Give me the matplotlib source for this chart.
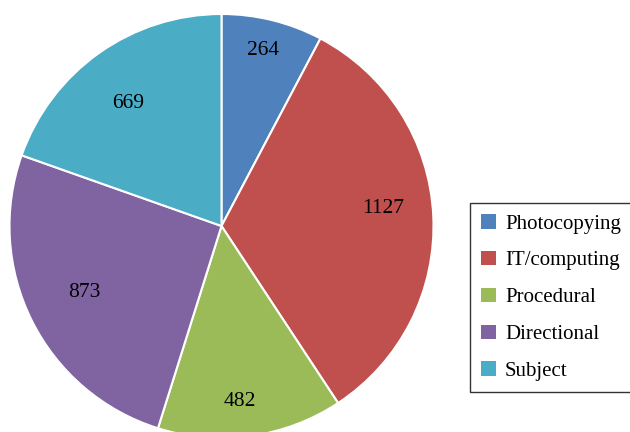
import numpy as np
import matplotlib.pyplot as plt
from matplotlib.patches import Patch

categories = ['Photocopying', 'IT/computing', 'Procedural', 'Directional', 'Subject']
counts = [264, 1127, 482, 873, 669]
colors = ['#4F81BD', '#C0504D', '#9BBB59', '#8064A2', '#4BACC6']
# where each number sits: fraction of radius and a small angle nudge (deg)
label_dist = [0.85, 0.765, 0.83, 0.72, 0.725]
label_nudge = [0.6, 3.6, -2.0, -0.6, 2.2]

plt.rcParams['font.family'] = ['Liberation Serif', 'DejaVu Serif']

fig = plt.figure(figsize=(6.3, 4.32), dpi=100)
W, H = 630, 432
r_px = 212
cx, cy = 221.5, 432 - 226
ax = fig.add_axes([(cx - r_px) / W, (cy - r_px) / H, 2 * r_px / W, 2 * r_px / H])

wedges, _ = ax.pie(counts, colors=colors, startangle=90, counterclock=False,
                   radius=1, wedgeprops=dict(edgecolor='white', linewidth=1.5))
ax.set_xlim(-1, 1)
ax.set_ylim(-1, 1)
ax.set_aspect('equal')
ax.axis('off')

for w, val, d, n in zip(wedges, counts, label_dist, label_nudge):
    mid = np.deg2rad((w.theta1 + w.theta2) / 2 + n)
    ax.text(d * np.cos(mid), d * np.sin(mid), str(val), ha='center', va='center',
            fontsize=15.5, color='black')

handles = [Patch(facecolor=c, edgecolor='none') for c in colors]
leg = fig.legend(handles, categories, loc='center left',
                 bbox_to_anchor=(470 / W, (432 - 297.5) / H),
                 fontsize=15, frameon=True, fancybox=False, edgecolor='black',
                 handlelength=0.68, handleheight=0.68, handletextpad=0.45,
                 labelspacing=0.83, borderpad=0.55, borderaxespad=0)
leg.get_frame().set_linewidth(1.0)

fig.savefig('out.png', dpi=100)
